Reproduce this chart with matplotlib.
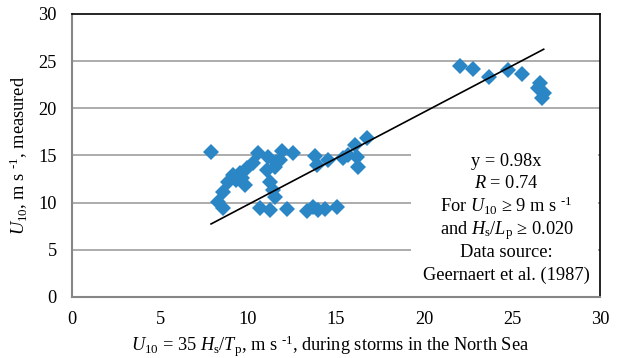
import matplotlib.pyplot as plt
from matplotlib.patches import Rectangle

plt.rcParams['font.family'] = ['Liberation Serif', 'DejaVu Serif']
plt.rcParams['mathtext.fontset'] = 'custom'
plt.rcParams['mathtext.rm'] = 'Liberation Serif'
plt.rcParams['mathtext.it'] = 'Liberation Serif:italic'

# estimated U10 from Hs/Tp (x) and measured U10 (y)
u_est = [7.90, 10.57, 11.14, 11.93, 12.56, 11.82, 11.53, 11.08, 10.28, 9.94,
         9.55, 9.15, 8.86, 9.83, 8.58, 8.30, 8.58, 11.25, 11.42, 11.53,
         10.68, 11.25, 12.22, 13.35, 13.69, 13.98, 14.38, 15.06, 13.81, 13.92,
         14.55, 15.40, 15.68, 16.08, 16.19, 16.25, 16.76, 9.32, 9.66, 11.60,
         22.05, 22.78, 23.69, 24.77, 25.57, 26.59, 26.48, 26.82, 26.70]
u_meas = [15.38, 15.27, 14.85, 15.48, 15.27, 14.53, 13.79, 13.47, 14.21, 13.68,
          13.15, 12.94, 12.20, 11.88, 11.13, 10.07, 9.44, 12.20, 11.35, 10.60,
          9.44, 9.23, 9.33, 9.12, 9.54, 9.23, 9.33, 9.54, 14.95, 14.00,
          14.53, 14.74, 15.06, 16.12, 14.85, 13.79, 16.86, 12.40, 12.60, 14.30,
          24.50, 24.18, 23.33, 24.07, 23.65, 22.69, 22.16, 21.63, 21.10]

slope = 0.98
fit_x = [7.9, 26.8]
fit_y = [slope * v for v in fit_x]

inv = ' $^{\\text{-1}}$'
note_lines = ['y = 0.98x',
              '$R$ = 0.74',
              'For $U_{10}$ ≥ 9 m s' + inv,
              'and $H_{\\rm s}$/$L_{\\rm p}$ ≥ 0.020',
              'Data source:',
              'Geernaert et al. (1987)']
note_y = [13.89, 11.56, 9.01, 6.68, 4.24, 1.80]

fig = plt.figure(figsize=(6.23, 3.58), dpi=100)
ax = fig.add_axes([0.1156, 0.1704, 0.8475, 0.7905])

for g in [5, 10, 15, 20, 25]:
    ax.axhline(g, color='#a6a6a6', linewidth=1.3, zorder=1)

ax.plot(u_est, u_meas, linestyle='none', marker='D', markersize=8,
        color='#2b86c6', markeredgewidth=0, zorder=3)
ax.plot(fit_x, fit_y, color='black', linewidth=1.2, zorder=4)

# white box behind the annotation
ax.add_patch(Rectangle((19.26, 0.7), 10.6, 15.9, facecolor='white',
                       edgecolor='none', zorder=2))
for txt, yy in zip(note_lines, note_y):
    ax.text(24.7, yy, txt, ha='center', va='baseline', fontsize=13.2, zorder=5)

ax.set_xlim(0, 30)
ax.set_ylim(0, 30)
ax.set_xticks(range(0, 31, 5))
ax.set_yticks(range(0, 31, 5))
ax.tick_params(length=0, labelsize=13.2)
ax.tick_params(axis='x', pad=10)
ax.tick_params(axis='y', pad=11)

for side in ['left', 'bottom']:
    ax.spines[side].set_color('#868686')
    ax.spines[side].set_linewidth(1.5)
for side in ['top', 'right']:
    ax.spines[side].set_color('black')
    ax.spines[side].set_linewidth(1.2)

ax.set_xlabel('$U_{10}$ = 35 $H_{\\rm s}$/$T_{\\rm p}$, m s' + inv + ', during storms in the North Sea',
              fontsize=13.2)
ax.xaxis.set_label_coords(0.488, -0.13)
ax.set_ylabel('$U_{10}$, m s' + inv + ', measured', fontsize=13.2, labelpad=6)

fig.savefig('out.png', dpi=100)
